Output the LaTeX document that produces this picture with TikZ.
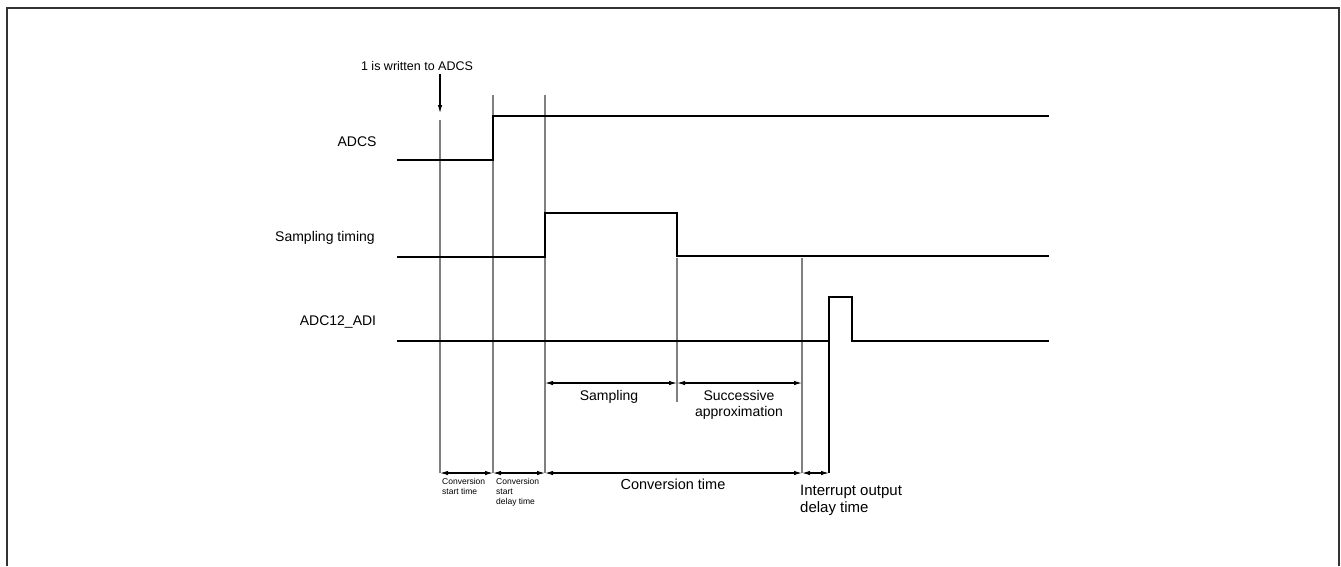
\documentclass[tikz,border=0pt]{standalone}
\usepackage{fontspec}
\setmainfont{Liberation Sans}
\usetikzlibrary{arrows.meta}
\begin{document}
\begin{tikzpicture}[x=1pt,y=-1pt,
  sig/.style={line width=2.2pt,black},
  guide/.style={line width=1.4pt,draw=black!50},
  tip/.style={Latex[length=8pt,width=4.5pt]},
  dim/.style={line width=1.1pt,{Latex[length=8pt,width=4.5pt]}-{Latex[length=8pt,width=4.5pt]}},
  lbl/.style={font=\fontsize{14}{16.5}\selectfont,inner sep=0pt},
  small/.style={font=\fontsize{8.5}{10}\selectfont,inner sep=0pt,align=left,anchor=north west},
  frame/.style={line width=1.6pt,draw=black!80}]
\useasboundingbox (0,0) rectangle (1341,566);
% frame
\coordinate (f1) at (7,566); \coordinate (f2) at (7,8);
\coordinate (f3) at (1339,8); \coordinate (f4) at (1339,566);
\draw[frame] (f1) -- (f2) -- (f3) -- (f4);
% guide lines
\coordinate (g1t) at (440,120); \coordinate (g1b) at (440,473);
\coordinate (g2t) at (493,95);  \coordinate (g2b) at (493,473);
\coordinate (g3t) at (545,95);  \coordinate (g3b) at (545,473);
\coordinate (g4t) at (677,258); \coordinate (g4b) at (677,402);
\coordinate (g5t) at (802,258); \coordinate (g5b) at (802,473);
\coordinate (g6t) at (829,297); \coordinate (g6b) at (829,473);
\draw[guide] (g1t) -- (g1b);
\draw[guide] (g2t) -- (g2b);
\draw[guide] (g3t) -- (g3b);
\draw[guide] (g4t) -- (g4b);
\draw[guide] (g5t) -- (g5b);
\draw[line width=1.1pt] (g6t) -- (g6b);
% signals
\draw[sig] (397,160) -- (493,160) -- (493,116) -- (1049,116);
\draw[sig] (397,257) -- (545,257) -- (545,213) -- (677,213) -- (677,256) -- (1049,256);
\draw[sig] (397,341) -- (829,341) -- (829,297) -- (852,297) -- (852,341) -- (1049,341);
% labels
\node[lbl] (adcs) at (357,142) {ADCS};
\node[lbl] (samp) at (325,238) {Sampling timing};
\node[lbl] (adi) at (338,322) {ADC12\_ADI};
\node[font=\fontsize{12.5}{15}\selectfont,inner sep=0pt] (write) at (417,66) {1 is written to ADCS};
\coordinate (wa) at (440,113);
\draw[line width=1.1pt,-{Latex[length=8pt,width=4.5pt]}] (write.south -| wa) ++(0,3) -- (wa);
% dimension rows
\coordinate (d1) at (545,383); \coordinate (d2) at (677,383); \coordinate (d3) at (802,383);
\draw[dim] (d1) -- (d2);
\draw[dim] (d2) -- (d3);
\node[lbl] (lsamp) at (609,397) {Sampling};
\node[lbl,align=center] (lsucc) at (739,405) {Successive\\approximation};
\coordinate (e1) at (440,473); \coordinate (e2) at (493,473); \coordinate (e3) at (545,473);
\coordinate (e4) at (802,473); \coordinate (e5) at (829,473);
\draw[dim] (e1) -- (e2);
\draw[dim] (e2) -- (e3);
\draw[dim] (e3) -- (e4);
\draw[dim] (e4) -- (e5);
\node[small] (cst) at (442,478) {Conversion\\start time};
\node[small] (csd) at (496,478) {Conversion\\start\\delay time};
\node[font=\fontsize{14.5}{16.5}\selectfont,inner sep=0pt] (ct) at (673,484) {Conversion time};
\node[font=\fontsize{15}{16.5}\selectfont,inner sep=0pt,align=left,anchor=north west] (iod) at (800,485) {Interrupt output\\delay time};
\end{tikzpicture}
\end{document}
